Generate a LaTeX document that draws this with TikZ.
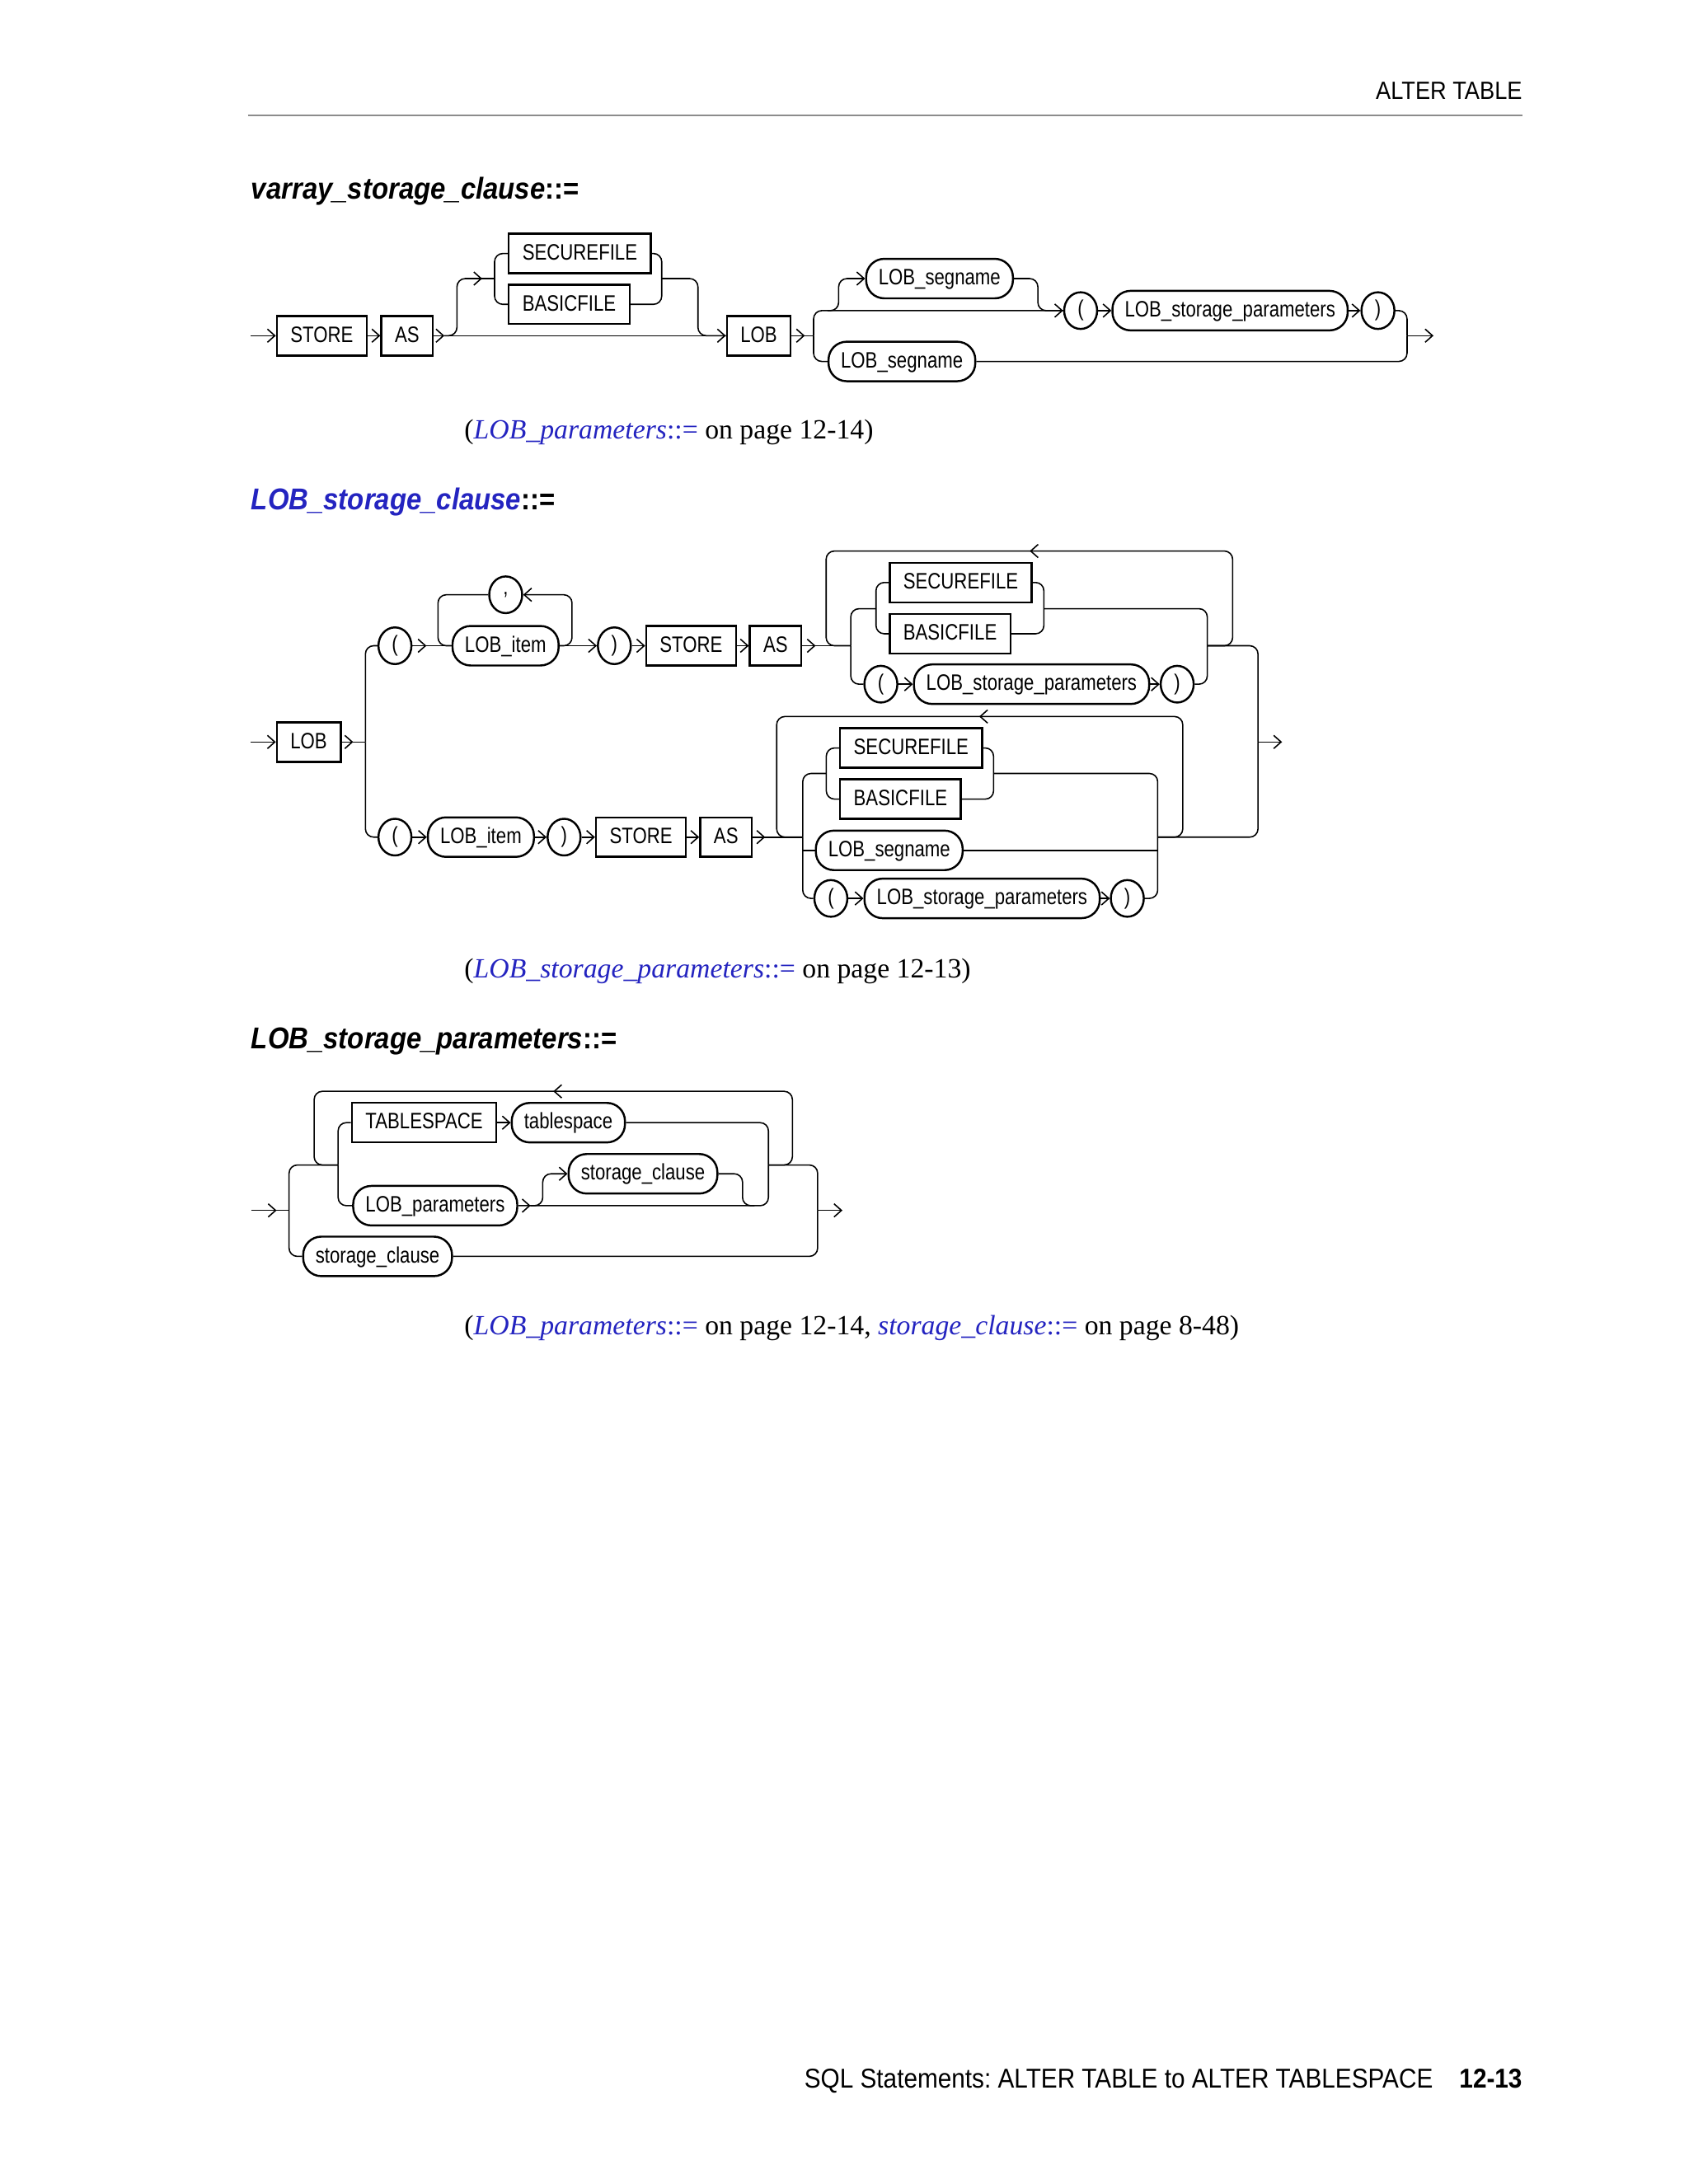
\documentclass[tikz,border=0pt]{standalone}
\usepackage{fontspec}
\usepackage{xcolor}
\definecolor{Link}{HTML}{2424C0}
\definecolor{Rule}{HTML}{8C8C8C}
\newfontfamily\rrfont[FakeStretch=0.82]{Liberation Sans}
\newfontfamily\pgfont[FakeStretch=0.9]{Liberation Sans}
\newfontfamily\hdfont[FakeStretch=0.9]{Liberation Sans}
\newfontfamily\capfont{Liberation Serif}
\newcommand\nodefont{\rrfont\fontsize{7.7}{9}\selectfont}
\frenchspacing
\usetikzlibrary{arrows.meta,positioning,shapes.geometric,decorations.markings}
\tikzset{
  >={Straight Barb[length=0.9mm,width=1.6mm]},
  track/.style={line width=0.45pt,rounded corners=1mm},
  kw/.style={draw,line width=0.7pt,font=\nodefont,minimum height=4.5mm,
    inner xsep=1.65mm,text height=2mm,text depth=0.45mm,anchor=west},
  nt/.style={kw,rounded corners=2.2mm,inner xsep=1.5mm},
  sym/.style={ellipse,draw,line width=0.7pt,font=\nodefont,minimum width=4mm,
    minimum height=4.45mm,inner sep=0pt},
  tipat/.style={postaction={decorate},
    decoration={markings,mark=at position #1 with {\arrow{>}}}},
  title/.style={anchor=base west,inner sep=0pt,
    font=\hdfont\bfseries\itshape\fontsize{10.4}{12}\selectfont},
  caption/.style={anchor=base west,inner sep=0pt,font=\capfont\fontsize{9.6}{12}\selectfont},
  pageline/.style={anchor=base east,inner sep=0pt}
}

\begin{document}
\begin{tikzpicture}[x=0.16898mm,y=-0.16898mm]
  \useasboundingbox (0,0) rectangle (1212,1568);
  \fill[white] (0,0) rectangle (1212,1568);

  % page head and foot
  \node[pageline,font=\pgfont\fontsize{8.6}{10}\selectfont] (head) at (1093,71) {ALTER TABLE};
  \draw[Rule,line width=0.5pt] (178,83) -- (1093,83);
  \node[pageline,font=\pgfont\fontsize{9.4}{11}\selectfont] (foot) at (1029,1499) {SQL Statements: ALTER TABLE to ALTER TABLESPACE};
  \node[pageline,font=\pgfont\bfseries\fontsize{9.4}{11}\selectfont] (pageno) at (1093,1499) {12-13};

  % varray_storage_clause
  \node[title] (title1) at (180,143) {varray\_storage\_clause{\upshape::=}};
  \coordinate (in1) at (180,241);
  \node[kw] (store1) at (198,241) {STORE};
  \node[kw] (as1) at (273,241) {AS};
  \node[kw] (secure1) at (364.5,182) {SECUREFILE};
  \node[kw] (basic1) at (364.5,218.5) {BASICFILE};
  \node[kw] (lob1) at (521,241) {LOB};
  \node[nt] (segname1) at (621,200) {LOB\_segname};
  \node[sym] (lp1) at (775.7,223) {(};
  \node[nt] (lsp1) at (797.8,223) {LOB\_storage\_parameters};
  \node[sym] (rp1) at (989.1,223) {)};
  \node[nt] (segname2) at (594,259.5) {LOB\_segname};
  \coordinate (fork1) at (319,241);
  \coordinate (fork2) at (584,241);
  \coordinate (fork3) at (594,223);
  \coordinate (join1) at (1010,241);
  \coordinate (out1) at (1029,241);
  \draw[track,->] (in1) -- (store1);
  \draw[track,->] (store1) -- (as1);
  \draw[track,->] (as1) -- (fork1);
  \draw[track,->] (fork1) -- (lob1);
  \draw[track,tipat=-1.5mm] (fork1) -| (328,200) -- (355,200);
  \draw[track] (secure1.west) -| (355,218.5) -- (basic1.west);
  \draw[track] (secure1.east) -| (475,218.5) -- (basic1.east);
  \draw[track] (475,200) -| (501,241) -- (lob1.west);
  \draw[track,tipat=1.6mm] (lob1) -- (fork2);
  \draw[track,->] (fork2) |- (lp1.west);
  \draw[track] (fork2) |- (segname2.west);
  \draw[track,->] (fork3) -| (602,200) -- (segname1.west);
  \draw[track] (segname1.east) -| (745,223) -- (lp1.west);
  \draw[track,->] (lp1) -- (lsp1);
  \draw[track,->] (lsp1) -- (rp1);
  \draw[track] (rp1.east) -| (join1);
  \draw[track] (segname2.east) -| (join1);
  \draw[track,->] (join1) -- (out1);
  \node[caption] (cap1) at (333,315) {(\textcolor{Link}{\itshape LOB\_parameters{\upshape::=}} on page 12-14)};

  % LOB_storage_clause
  \node[title] (title2) at (180,366) {\textcolor{Link}{LOB\_storage\_clause}{\upshape::=}};
  \coordinate (in2) at (180,532.7);
  \node[kw] (lob2) at (198,532.7) {LOB};
  \coordinate (fork4) at (262.3,532.7);
  \node[sym] (lp2) at (283.5,463.6) {(};
  \node[nt] (item1) at (324.1,463.6) {LOB\_item};
  \node[sym] (comma) at (363,427) {,};
  \node[sym] (rp2) at (441,463.6) {)};
  \node[kw] (store2) at (463.1,463.6) {STORE};
  \node[kw] (as2) at (537.5,463.6) {AS};
  \node[kw] (secure2) at (637.9,418.2) {SECUREFILE};
  \node[kw] (basic2) at (637.9,455) {BASICFILE};
  \node[sym] (lp3) at (632.3,491.2) {(};
  \node[nt] (lsp2) at (655.3,491.2) {LOB\_storage\_parameters};
  \node[sym] (rp3) at (845,491.2) {)};
  \coordinate (fork5) at (610.7,463.6);
  \coordinate (join2) at (866.6,463.6);
  \node[sym] (lp4) at (283.5,601) {(};
  \node[nt] (item2) at (306.4,601) {LOB\_item};
  \node[sym] (rp4) at (404.9,601) {)};
  \node[kw] (store3) at (427.1,601) {STORE};
  \node[kw] (as3) at (501.9,601) {AS};
  \node[kw] (secure3) at (602.3,537) {SECUREFILE};
  \node[kw] (basic3) at (602.3,573.7) {BASICFILE};
  \node[nt] (segname3) at (584.9,610.5) {LOB\_segname};
  \node[sym] (lp5) at (596.4,645) {(};
  \node[nt] (lsp3) at (619.8,645) {LOB\_storage\_parameters};
  \node[sym] (rp5) at (809.2,645) {)};
  \coordinate (fork6) at (576.2,601);
  \coordinate (join3) at (831,601);
  \coordinate (join4) at (903,532.7);
  \coordinate (out2) at (920.3,532.7);
  \draw[track,->] (in2) -- (lob2);
  \draw[track,tipat=1.4mm] (lob2) -- (fork4);
  \draw[track] (fork4) |- (lp2.west);
  \draw[track] (fork4) |- (lp4.west);
  \draw[track,tipat=1.7mm] (lp2) -- (item1);
  \draw[track,->] (item1.east) -| (410.6,427) -- (comma.east);
  \draw[track] (comma.west) -| (314.4,463.6) -- (item1.west);
  \draw[track,->] (item1) -- (rp2);
  \draw[track,->] (rp2) -- (store2);
  \draw[track,->] (store2) -- (as2);
  \draw[track,tipat=1.6mm] (as2) -- (fork5);
  \draw[track,tipat=0.5] (join2) -| (884.8,395.6) -| (593,463.6) -- (fork5);
  \draw[track] (fork5) |- (628.8,437);
  \draw[track] (secure2.west) -| (628.8,455) -- (basic2.west);
  \draw[track] (secure2.east) -| (749.3,455) -- (basic2.east);
  \draw[track] (749.3,437) -| (join2);
  \draw[track] (fork5) |- (lp3.west);
  \draw[track,->] (lp3) -- (lsp2);
  \draw[track,->] (lsp2) -- (rp3);
  \draw[track] (rp3.east) -| (join2);
  \draw[track] (join2) -| (join4);
  \draw[track,->] (lp4) -- (item2);
  \draw[track,->] (item2) -- (rp4);
  \draw[track,->] (rp4) -- (store3);
  \draw[track,->] (store3) -- (as3);
  \draw[track,tipat=1.5mm] (as3) -- (fork6);
  \draw[track,tipat=0.5] (join3) -| (849,514.4) -| (557.5,601) -- (fork6);
  \draw[track] (fork6) |- (593.1,555.3);
  \draw[track] (secure3.west) -| (593.1,573.7) -- (basic3.west);
  \draw[track] (secure3.east) -| (713.2,573.7) -- (basic3.east);
  \draw[track] (713.2,555.3) -| (join3);
  \draw[track] (576.2,610.5) -- (segname3);
  \draw[track] (segname3.east) -- (831,610.5);
  \draw[track] (fork6) |- (lp5.west);
  \draw[track,->] (lp5) -- (lsp3);
  \draw[track,->] (lsp3) -- (rp5);
  \draw[track] (rp5.east) -| (join3);
  \draw[track] (join3) -| (join4);
  \draw[track,->] (join4) -- (out2);
  \node[caption] (cap2) at (333,702) {(\textcolor{Link}{\itshape LOB\_storage\_parameters{\upshape::=}} on page 12-13)};

  % LOB_storage_parameters
  \node[title] (title3) at (180,753) {LOB\_storage\_parameters{\upshape::=}};
  \coordinate (in3) at (180.2,869);
  \coordinate (fork7) at (207.5,869);
  \coordinate (fork8) at (242.7,836.4);
  \node[kw] (tbs) at (251.9,806) {TABLESPACE};
  \node[nt] (tspace) at (366.6,806) {tablespace};
  \node[nt] (lobpar) at (252.8,865.6) {LOB\_parameters};
  \node[nt] (storage1) at (407.4,842.7) {storage\_clause};
  \node[nt] (storage2) at (216.9,902) {storage\_clause};
  \coordinate (fork9) at (381,865.6);
  \coordinate (join5) at (551.6,836.4);
  \coordinate (join6) at (586.9,869);
  \coordinate (out3) at (604.7,869);
  \draw[track,tipat=3.1mm] (in3) -- (fork7);
  \draw[track] (fork7) |- (fork8);
  \draw[track] (fork7) |- (storage2.west);
  \draw[track,tipat=0.5] (join5) -| (568.8,783.5) -| (225.5,836.4) -- (fork8);
  \draw[track] (fork8) |- (tbs.west);
  \draw[track] (fork8) |- (lobpar.west);
  \draw[track,->] (tbs) -- (tspace);
  \draw[track] (tspace.east) -| (join5);
  \draw[track,tipat=1.5mm] (lobpar.east) -| (join5);
  \draw[track,->] (fork9) -| (389.6,842.7) -- (storage1.west);
  \draw[track] (storage1.east) -| (533,865.6) -- (541.6,865.6);
  \draw[track] (join5) -| (join6);
  \draw[track] (storage2.east) -| (join6);
  \draw[track,->] (join6) -- (out3);
  \node[caption] (cap3) at (333,958) {(\textcolor{Link}{\itshape LOB\_parameters{\upshape::=}} on page 12-14, \textcolor{Link}{\itshape storage\_clause{\upshape::=}} on page 8-48)};
\end{tikzpicture}
\end{document}
